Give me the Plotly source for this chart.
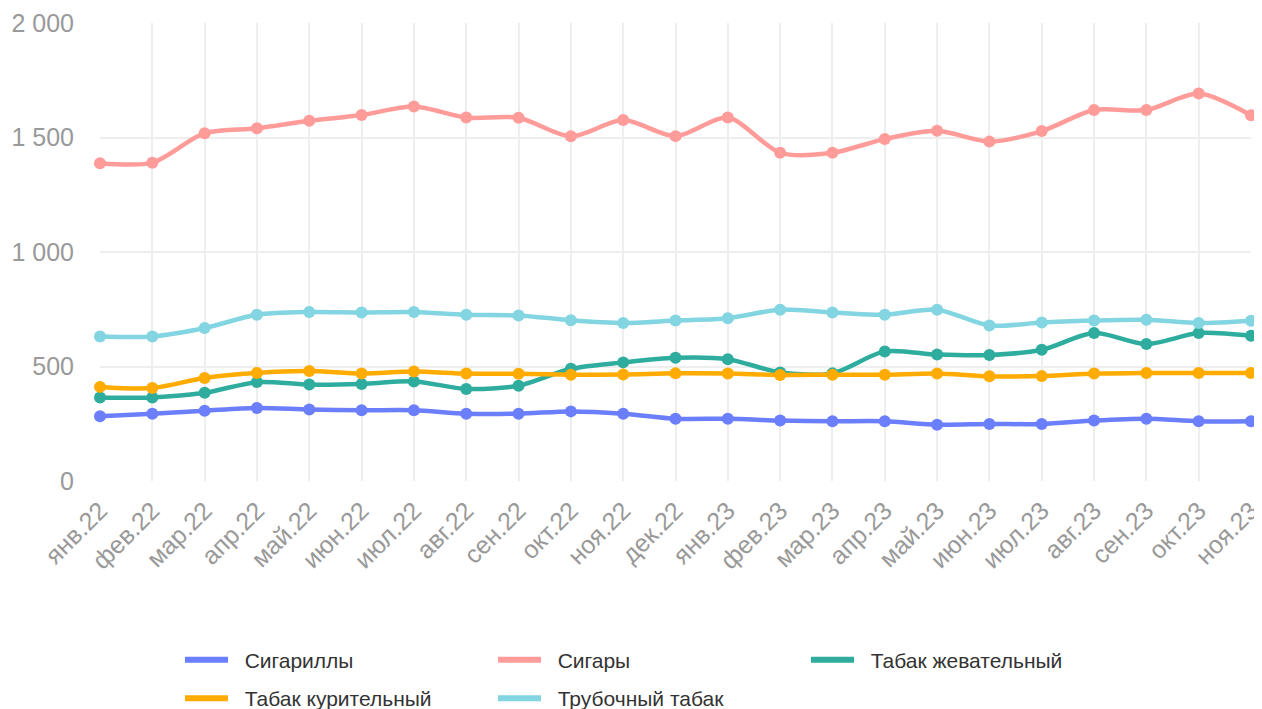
import plotly.graph_objects as go

months = ["янв.22", "фев.22", "мар.22", "апр.22", "май.22", "июн.22", "июл.22", "авг.22",
          "сен.22", "окт.22", "ноя.22", "дек.22", "янв.23", "фев.23", "мар.23", "апр.23",
          "май.23", "июн.23", "июл.23", "авг.23", "сен.23", "окт.23", "ноя.23"]

cigarillos = [283, 294, 307, 319, 312, 309, 309, 294, 294, 304, 294, 272,
              272, 264, 261, 261, 246, 249, 249, 264, 272, 261, 261]
cigars = [1388, 1390, 1519, 1540, 1573, 1598, 1635, 1587, 1586, 1505, 1576, 1506,
          1587, 1433, 1433, 1493, 1529, 1482, 1528, 1620, 1620, 1692, 1597]
chewing = [365, 365, 385, 432, 421, 424, 435, 402, 416, 490, 518, 538,
           532, 474, 470, 566, 552, 550, 573, 646, 598, 646, 634]
smoking = [411, 406, 450, 472, 480, 469, 478, 469, 468, 464, 465, 470,
           469, 463, 464, 464, 469, 457, 458, 469, 472, 472, 472]
pipe = [631, 631, 668, 726, 738, 736, 738, 726, 723, 702, 690, 701,
        711, 748, 736, 726, 748, 679, 692, 701, 704, 690, 700]

series = [
    ("Сигариллы", cigarillos, "#6B7EFB", "legend"),
    ("Сигары", cigars, "#FF9C9A", "legend"),
    ("Табак жевательный", chewing, "#2EAD9F", "legend"),
    ("Табак курительный", smoking, "#FFAB00", "legend2"),
    ("Трубочный табак", pipe, "#82D5E1", "legend2"),
]

fig = go.Figure()
for name, vals, color, lg in series:
    fig.add_trace(go.Scatter(
        x=months, y=vals, name=name, mode="lines+markers",
        line=dict(color=color, width=4.5, shape="spline", smoothing=0.8),
        marker=dict(color=color, size=12),
        cliponaxis=False, showlegend=False,
    ))
for name, vals, color, lg in series:
    fig.add_trace(go.Scatter(
        x=[None], y=[None], name="\u00a0\u00a0" + name, mode="lines",
        line=dict(color=color, width=6),
        showlegend=True, legend=lg,
    ))

legend_common = dict(
    orientation="h", xanchor="left", yanchor="middle",
    font=dict(size=21, color="#333333"),
    entrywidth=255, entrywidthmode="pixels",
    itemwidth=43, bgcolor="rgba(0,0,0,0)", borderwidth=0,
)

# page body has an 8px margin, so the figure is offset by 8px
fig.update_layout(
    width=1254, height=701,
    margin=dict(l=92, r=11, t=15, b=228, autoexpand=False),
    paper_bgcolor="white", plot_bgcolor="white",
    font=dict(family="Liberation Sans, Arial, sans-serif", color="#999999"),
    separators=", ",
    showlegend=True,
    legend=dict(x=0.0695, y=-0.391, **legend_common),
    legend2=dict(x=0.0695, y=-0.475, **legend_common),
    xaxis=dict(
        range=[0, 22], showgrid=True, gridcolor="#EEEEEE", gridwidth=1.5,
        tickangle=-45, tickfont=dict(size=25, color="#999999"),
        showline=False, zeroline=False, ticks="", automargin=False,
        ticklabelstandoff=9,
    ),
    yaxis=dict(
        range=[0, 2000], tickvals=[0, 500, 1000, 1500, 2000],
        separatethousands=True, tickformat=",d",
        showgrid=True, gridcolor="#EEEEEE", gridwidth=1.5,
        tickfont=dict(size=25, color="#999999"),
        zeroline=False, showline=False, ticks="", automargin=False,
        ticklabelstandoff=25,
    ),
)

fig.write_html("out.html")
